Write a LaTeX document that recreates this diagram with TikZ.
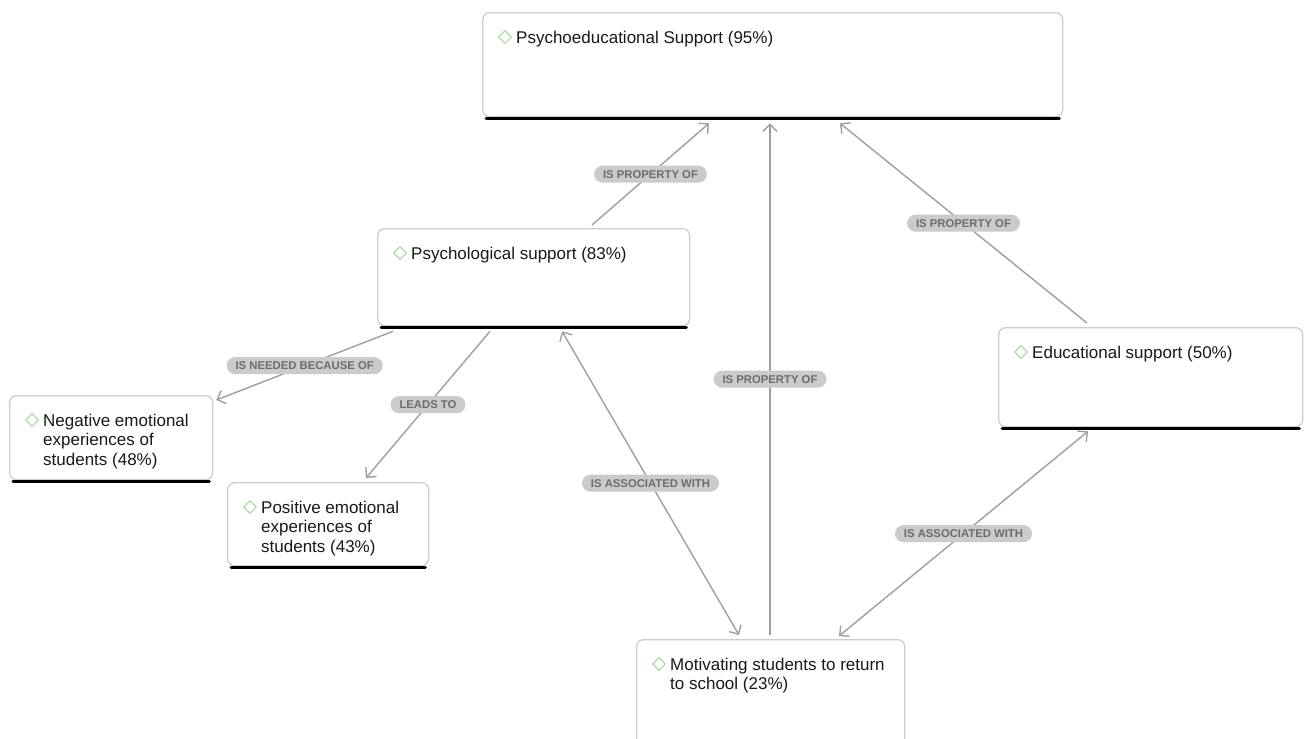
\documentclass[tikz,border=0pt]{standalone}
\usepackage{fontspec}
\setmainfont{Liberation Sans}
\usetikzlibrary{arrows.meta,shapes.geometric}

\definecolor{boxline}{HTML}{CDCDCD}
\definecolor{edgegray}{HTML}{9F9F9F}
\definecolor{pillgray}{HTML}{CBCBCB}
\definecolor{pilltext}{HTML}{6C6C6C}
\definecolor{gemgreen}{HTML}{AEDCA6}

\newcommand{\lines}[1]{\begin{tabular}[t]{@{}l@{}}#1\end{tabular}}

\begin{document}
\begin{tikzpicture}[x=1pt,y=-1pt,
    concept/.style={draw=boxline, line width=1.3pt, fill=white, rounded corners=7pt, anchor=north west, inner sep=0pt},
    caption/.style={anchor=base west, inner sep=0pt, font=\fontsize{17}{19.5}\selectfont, text=black!90},
    gem/.style={diamond, draw=gemgreen, line width=1.1pt, inner sep=0pt, minimum width=13pt, minimum height=13pt},
    bar/.style={line width=3pt, line cap=round, black},
    link/.style={draw=edgegray, line width=1.4pt, -{Straight Barb[length=7pt,width=14pt]}},
    twoway/.style={link, {Straight Barb[length=7pt,width=14pt]}-{Straight Barb[length=7pt,width=14pt]}},
    tag/.style={fill=pillgray, text=pilltext, rounded corners=8.5pt, font=\fontsize{11.3}{12}\selectfont\bfseries, inner xsep=9pt, inner ysep=4.5pt, text height=8pt, text depth=0pt}]

  \clip (0,0) rectangle (1304,739);
  \fill[white] (0,0) rectangle (1304,739);

  % concept boxes
  \node[concept, minimum width=580, minimum height=104] (top) at (482,12) {};
  \node[concept, minimum width=312, minimum height=97] (psy) at (377,228) {};
  \node[concept, minimum width=203, minimum height=84] (neg) at (9,395) {};
  \node[concept, minimum width=201, minimum height=83] (pos) at (227,482) {};
  \node[concept, minimum width=304, minimum height=99] (edu) at (998,327) {};
  \node[concept, minimum width=268, minimum height=130] (mot) at (636,639) {};

  \foreach \b/\t in {top/{Psychoeducational Support (95\%)},
                     psy/{Psychological support (83\%)},
                     neg/{Negative emotional\\experiences of\\students (48\%)},
                     pos/{Positive emotional\\experiences of\\students (43\%)},
                     edu/{Educational support (50\%)},
                     mot/{Motivating students to return\\to school (23\%)}} {
    \draw[bar] ([shift={(4,1)}]\b.south west) -- ([shift={(-4,1)}]\b.south east);
    \node[gem] (\b-gem) at ([shift={(23,25)}]\b.north west) {};
    \node[caption] (\b-text) at ([shift={(34,31)}]\b.north west) {\lines{\t}};
  }

  % links
  \draw[link] ([shift={(215,-3)}]psy.north west) -- node[tag] (l1) {IS PROPERTY OF} ([shift={(227,6)}]top.south west);
  \draw[link] ([shift={(134,-4)}]mot.north west) -- node[tag] (l2) {IS PROPERTY OF} ([shift={(288,6)}]top.south west);
  \draw[link] ([shift={(89,-4)}]edu.north west) -- node[tag] (l3) {IS PROPERTY OF} ([shift={(358,6)}]top.south west);
  \draw[link] ([shift={(16,5)}]psy.south west) -- node[tag] (l4) {IS NEEDED BECAUSE OF} ([shift={(3,5)}]neg.north east);
  \draw[link] ([shift={(113,5)}]psy.south west) -- node[tag] (l5) {LEADS TO} ([shift={(139,-4)}]pos.north west);
  \draw[twoway] ([shift={(185,5)}]psy.south west) -- node[tag] (l6) {IS ASSOCIATED WITH} ([shift={(103,-4)}]mot.north west);
  \draw[twoway] ([shift={(90,4)}]edu.south west) -- node[tag] (l7) {IS ASSOCIATED WITH} ([shift={(203,-3)}]mot.north west);
\end{tikzpicture}
\end{document}
